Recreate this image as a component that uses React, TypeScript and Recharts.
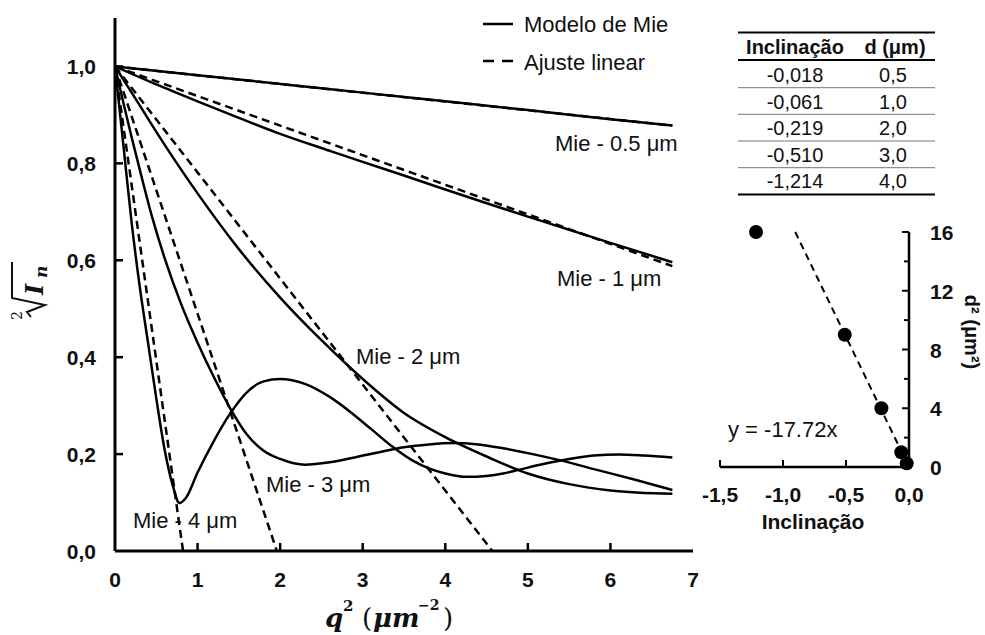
import React from 'react';
import { LineChart, Line, XAxis, YAxis, ComposedChart, Scatter } from 'recharts';

// main chart axes
const q2Ticks = [0, 1, 2, 3, 4, 5, 6, 7];
const intensityTicks = [0, 0.2, 0.4, 0.6, 0.8, 1.0];

// Mie model curves, [q², sqrt(In)]
const mie05 = [[0, 1.0], [1, 0.982], [2, 0.964], [3, 0.946], [4, 0.928], [5, 0.91], [6, 0.891], [6.75, 0.878]];
const mie1 = [[0, 1.0], [0.5, 0.963], [1, 0.928], [1.5, 0.894], [2, 0.861], [2.6, 0.826], [3, 0.803], [3.5, 0.775], [4, 0.746], [4.66, 0.709], [5, 0.69], [5.5, 0.663], [6, 0.636], [6.75, 0.596]];
const mie2 = [[0, 1.0], [0.25, 0.933], [0.5, 0.865], [0.75, 0.8], [1, 0.738], [1.5, 0.623], [2, 0.523], [2.5, 0.435], [3, 0.355], [3.5, 0.285], [4, 0.235], [4.5, 0.195], [5, 0.16], [5.5, 0.138], [6, 0.125], [6.75, 0.118]];
const mie3 = [[0, 1.0], [0.1, 0.926], [0.2, 0.855], [0.3, 0.787], [0.45, 0.689], [0.6, 0.605], [0.8, 0.51], [1, 0.43], [1.2, 0.358], [1.4, 0.293], [1.6, 0.24], [1.8, 0.207], [2, 0.19], [2.3, 0.178], [2.6, 0.183], [2.9, 0.193], [3.2, 0.204], [3.5, 0.214], [3.8, 0.22], [4.1, 0.223], [4.4, 0.22], [4.7, 0.212], [5, 0.202], [5.4, 0.187], [5.8, 0.169], [6.3, 0.147], [6.75, 0.126]];
const mie4 = [[0, 1.0], [0.1, 0.84], [0.2, 0.68], [0.3, 0.545], [0.4, 0.43], [0.5, 0.315], [0.6, 0.21], [0.7, 0.135], [0.78, 0.099], [0.86, 0.11], [1, 0.162], [1.2, 0.228], [1.4, 0.285], [1.6, 0.328], [1.8, 0.35], [2, 0.355], [2.3, 0.345], [2.6, 0.318], [2.85, 0.287], [3.1, 0.252], [3.37, 0.214], [3.6, 0.187], [3.81, 0.17], [4, 0.16], [4.26, 0.153], [4.5, 0.155], [4.7, 0.16], [4.9, 0.168], [5.2, 0.18], [5.5, 0.19], [5.8, 0.197], [6.1, 0.199], [6.4, 0.197], [6.75, 0.193]];

// linear fits (end points)
const fit05 = [[0, 1.0], [6.75, 0.878]];
const fit1 = [[0, 1.0], [6.75, 0.588]];
const fit2 = [[0, 1.0], [4.57, 0]];
const fit3 = [[0, 1.0], [1.96, 0]];
const fit4 = [[0, 1.0], [0.824, 0]];

// table + inset
const slopes = [-0.018, -0.061, -0.219, -0.51, -1.214];
const diameters = [0.5, 1.0, 2.0, 3.0, 4.0];
const diamSquared = [0.25, 1, 4, 9, 16];
const insetFit = [[-0.903, 16], [0, 0]];
const slopeTicks = [-1.5, -1.0, -0.5, 0];
const d2Ticks = [0, 2, 4, 6, 8, 10, 12, 14, 16];
const d2Labels = [0, 4, 8, 12, 16];

const toPts = (arr: number[][]) => arr.map(([x, y]) => ({ x, y }));
const comma = (v: number, n: number) => v.toFixed(n).replace('.', ',');

const SANS = '"Liberation Sans", Arial, sans-serif';
const MATH = '"DejaVu Serif", serif';
const INK = '#111';

function MainXTick({ x, y, payload }: any) {
  const v = payload.value;
  return (
    <g>
      {v > 0 && v < 7 && <line x1={x} x2={x} y1={y} y2={y - 8} stroke="#000" strokeWidth={2.5} />}
      <text x={x} y={y + 36} textAnchor="middle" fontFamily={SANS} fontWeight="bold" fontSize={21} fill={INK}>
        {v}
      </text>
    </g>
  );
}

function MainYTick({ x, y, payload }: any) {
  const v = payload.value;
  return (
    <g>
      {v > 0 && <line x1={x} x2={x + 8} y1={y} y2={y} stroke="#000" strokeWidth={2.5} />}
      <text x={x - 19} y={y + 8} textAnchor="end" fontFamily={SANS} fontWeight="bold" fontSize={21} fill={INK}>
        {comma(v, 1)}
      </text>
    </g>
  );
}

function InsetXTick({ x, y, payload }: any) {
  const v = payload.value;
  return (
    <g>
      {v < 0 && <line x1={x} x2={x} y1={y} y2={y - 7} stroke="#000" strokeWidth={2} />}
      <text x={x} y={y + 35} textAnchor="middle" fontFamily={SANS} fontWeight="bold" fontSize={21} fill={INK}>
        {comma(v, 1)}
      </text>
    </g>
  );
}

function InsetYTick({ x, y, payload }: any) {
  const v = payload.value;
  const major = d2Labels.includes(v);
  return (
    <g>
      {v > 0 && <line x1={x} x2={x - (major ? 7 : 5)} y1={y} y2={y} stroke="#000" strokeWidth={2} />}
      {major && (
        <text x={x + 21} y={y + 8} textAnchor="start" fontFamily={SANS} fontWeight="bold" fontSize={21} fill={INK}>
          {v}
        </text>
      )}
    </g>
  );
}

const solids = [mie05, mie1, mie2, mie3, mie4];
const fits = [fit05, fit1, fit2, fit3, fit4];

export default function App() {
  const rowY = [82, 108.5, 135, 161.5, 188];
  const ruleY = [87.7, 114.3, 141, 167.7];
  return (
    <div style={{ position: 'absolute', left: 0, top: 0, width: 985, height: 635, background: '#fff' }}>
      <div style={{ position: 'absolute', left: 0, top: 0 }}>
        <LineChart width={985} height={635} margin={{ top: 18, right: 292, bottom: 24, left: 55 }}>
          <XAxis
            type="number"
            dataKey="x"
            domain={[0, 7]}
            ticks={q2Ticks}
            interval={0}
            allowDataOverflow
            height={60}
            tickSize={0}
            tickMargin={0}
            tickLine={false}
            axisLine={{ stroke: '#000', strokeWidth: 3 }}
            tick={(p: any) => <MainXTick {...p} />}
          />
          <YAxis
            type="number"
            domain={[0, 1.1]}
            ticks={intensityTicks}
            interval={0}
            allowDataOverflow
            width={60}
            tickSize={0}
            tickMargin={0}
            tickLine={false}
            axisLine={{ stroke: '#000', strokeWidth: 3 }}
            tick={(p: any) => <MainYTick {...p} />}
          />
          {fits.map((f, i) => (
            <Line
              key={'fit' + i}
              data={toPts(f)}
              dataKey="y"
              type="linear"
              stroke="#000"
              strokeWidth={2.5}
              strokeDasharray="8 5"
              dot={false}
              isAnimationActive={false}
            />
          ))}
          {solids.map((s, i) => (
            <Line
              key={'mie' + i}
              data={toPts(s)}
              dataKey="y"
              type="monotone"
              stroke="#000"
              strokeWidth={2.5}
              dot={false}
              isAnimationActive={false}
            />
          ))}
        </LineChart>
      </div>

      <div style={{ position: 'absolute', left: 700, top: 200 }}>
        <ComposedChart width={285} height={330} margin={{ top: 32, right: 16, bottom: 13, left: 20 }}>
          <XAxis
            type="number"
            dataKey="x"
            domain={[-1.5, 0]}
            ticks={slopeTicks}
            interval={0}
            height={50}
            tickSize={0}
            tickMargin={0}
            tickLine={false}
            axisLine={{ stroke: '#000', strokeWidth: 2.5 }}
            tick={(p: any) => <InsetXTick {...p} />}
          />
          <YAxis
            orientation="right"
            type="number"
            dataKey="y"
            domain={[0, 16]}
            ticks={d2Ticks}
            interval={0}
            width={60}
            tickSize={0}
            tickMargin={0}
            tickLine={false}
            axisLine={{ stroke: '#000', strokeWidth: 2.5 }}
            tick={(p: any) => <InsetYTick {...p} />}
          />
          <Line
            data={toPts(insetFit)}
            dataKey="y"
            type="linear"
            stroke="#000"
            strokeWidth={2}
            strokeDasharray="7 5"
            dot={false}
            isAnimationActive={false}
          />
          <Scatter
            data={slopes.map((s, i) => ({ x: s, y: diamSquared[i] }))}
            fill="#000"
            isAnimationActive={false}
            shape={(p: any) => <circle cx={p.cx} cy={p.cy} r={7} fill="#000" />}
          />
        </ComposedChart>
      </div>

      <svg width={985} height={635} style={{ position: 'absolute', left: 0, top: 0, pointerEvents: 'none' }}>
        {/* legend */}
        <line x1={483} x2={513} y1={24} y2={24} stroke="#000" strokeWidth={2.5} />
        <text x={524} y={32} fontFamily={SANS} fontSize={22} fill={INK}>Modelo de Mie</text>
        <line x1={483} x2={513} y1={61} y2={61} stroke="#000" strokeWidth={2.5} strokeDasharray="11 8" />
        <text x={524} y={70} fontFamily={SANS} fontSize={22} fill={INK}>Ajuste linear</text>

        {/* curve labels */}
        <g fontFamily={SANS} fontSize={22} fill={INK}>
          <text x={555} y={151}>Mie - 0.5 μm</text>
          <text x={557} y={286}>Mie - 1 μm</text>
          <text x={356} y={364}>Mie - 2 μm</text>
          <text x={266} y={492}>Mie - 3 μm</text>
          <text x={133} y={528}>Mie - 4 μm</text>
        </g>

        {/* x axis title */}
        <g fontFamily={MATH} fill={INK} fontWeight="bold">
          <text x={325} y={627} fontSize={26} fontStyle="italic">q</text>
          <text x={343} y={611} fontSize={15}>2</text>
          <text x={362} y={627} fontSize={26} fontWeight="normal">(</text>
          <text x={373} y={627} fontSize={26} fontStyle="italic">μm</text>
          <text x={418} y={610} fontSize={14}>−2</text>
          <text x={443} y={627} fontSize={26} fontWeight="normal">)</text>
        </g>

        {/* y axis title: square root of I_n */}
        <g transform="translate(43,320) rotate(-90)" fill={INK}>
          <text x={0} y={-21} fontFamily={MATH} fontSize={14}>2</text>
          <path d="M 3 -12 L 8 -16 L 15 2 L 22 -31 L 58 -31" fill="none" stroke="#111" strokeWidth={2} />
          <text x={25} y={0} fontFamily={MATH} fontSize={24} fontWeight="bold" fontStyle="italic">I</text>
          <text x={42} y={4} fontFamily={MATH} fontSize={17} fontWeight="bold" fontStyle="italic">n</text>
        </g>

        {/* table */}
        <line x1={738} x2={935} y1={32.5} y2={32.5} stroke="#000" strokeWidth={2} />
        <text x={795} y={54} textAnchor="middle" fontFamily={SANS} fontWeight="bold" fontSize={20} fill={INK}>Inclinação</text>
        <text x={895} y={54} textAnchor="middle" fontFamily={SANS} fontWeight="bold" fontSize={20} fill={INK}>d (μm)</text>
        <line x1={738} x2={935} y1={60} y2={60} stroke="#000" strokeWidth={2} />
        {ruleY.map((ry) => (
          <line key={ry} x1={738} x2={935} y1={ry} y2={ry} stroke="#777" strokeWidth={1} />
        ))}
        {slopes.map((s, i) => (
          <g key={'row' + i} fontFamily={SANS} fontSize={20} fill={INK} textAnchor="middle">
            <text x={795} y={rowY[i]}>{comma(s, 3)}</text>
            <text x={893} y={rowY[i]}>{comma(diameters[i], 1)}</text>
          </g>
        ))}
        <line x1={738} x2={935} y1={194.5} y2={194.5} stroke="#000" strokeWidth={2} />

        {/* inset texts */}
        <text x={728} y={437} fontFamily={SANS} fontSize={22} fill={INK}>y = -17.72x</text>
        <text x={813} y={529} textAnchor="middle" fontFamily={SANS} fontWeight="bold" fontSize={21} fill={INK}>Inclinação</text>
        <g transform="translate(965,332) rotate(90)">
          <text x={0} y={0} textAnchor="middle" fontFamily={SANS} fontWeight="bold" fontSize={20} fill={INK}>
            d² (μm²)
          </text>
        </g>
      </svg>
    </div>
  );
}
